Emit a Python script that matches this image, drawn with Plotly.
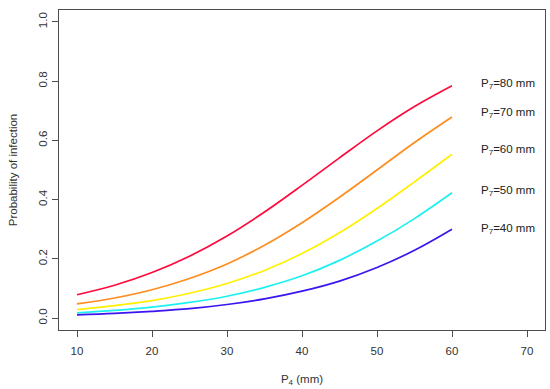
import plotly.graph_objects as go

# P4 (mm) values
p4 = [10, 15, 20, 25, 30, 35, 40, 45, 50, 55, 60]

# Probability of infection for each P7 value
prob_p7_80 = [0.079, 0.111, 0.154, 0.209, 0.277, 0.358, 0.448, 0.541, 0.632, 0.714, 0.784]
prob_p7_70 = [0.048, 0.068, 0.096, 0.134, 0.183, 0.246, 0.322, 0.408, 0.500, 0.593, 0.679]
prob_p7_60 = [0.029, 0.042, 0.059, 0.084, 0.117, 0.161, 0.218, 0.288, 0.370, 0.460, 0.553]
prob_p7_50 = [0.018, 0.026, 0.037, 0.053, 0.074, 0.104, 0.143, 0.195, 0.260, 0.336, 0.423]
prob_p7_40 = [0.011, 0.016, 0.023, 0.032, 0.046, 0.065, 0.091, 0.125, 0.171, 0.229, 0.300]

series_names = ["P7=80 mm", "P7=70 mm", "P7=60 mm", "P7=50 mm", "P7=40 mm"]
series_labels = ["P<sub>7</sub>=80 mm", "P<sub>7</sub>=70 mm", "P<sub>7</sub>=60 mm",
                 "P<sub>7</sub>=50 mm", "P<sub>7</sub>=40 mm"]
series_values = [prob_p7_80, prob_p7_70, prob_p7_60, prob_p7_50, prob_p7_40]
label_y = [0.789, 0.691, 0.567, 0.430, 0.300]
label_x = 63.6

x_ticks = [10, 20, 30, 40, 50, 60, 70]
y_ticks = [0.0, 0.2, 0.4, 0.6, 0.8, 1.0]
y_tick_text = ["0.0", "0.2", "0.4", "0.6", "0.8", "1.0"]

colors = ["#FF0A3C", "#FF8C1E", "#FFF000", "#1EF0F0", "#3C14F0"]

fig = go.Figure()
for name, vals, col in zip(series_names, series_values, colors):
    fig.add_trace(go.Scatter(x=p4, y=vals, mode="lines", name=name,
                             line=dict(color=col, width=1.7, shape="spline"),
                             showlegend=False))

for lab, yy in zip(series_labels, label_y):
    fig.add_annotation(x=label_x, y=yy, text=lab, showarrow=False,
                       xanchor="left", yanchor="middle",
                       font=dict(size=11.5, color="#222222", family="Liberation Sans, Arial"))

axis_color = "#4d4d4d"
fig.update_layout(
    width=550, height=389,
    margin=dict(l=58.7, r=5, t=10, b=59),
    paper_bgcolor="white", plot_bgcolor="white",
    font=dict(family="Liberation Sans, Arial", size=11.5, color="#333333"),
    xaxis=dict(range=[7.6, 72.4], tickvals=x_ticks, ticktext=[str(v) for v in x_ticks],
               showgrid=False, zeroline=False, showline=True, linecolor=axis_color,
               linewidth=1.3, mirror=True, ticks="outside", ticklen=6,
               tickcolor=axis_color, tickwidth=1.3, automargin=False,
               ticklabelstandoff=4,
               title=dict(text="P<sub>4</sub> (mm)", standoff=18, font=dict(size=11.5)),
               tickfont=dict(size=11.5, color="#333333")),
    yaxis=dict(range=[-0.04, 1.04], tickvals=y_ticks, ticktext=y_tick_text,
               showgrid=False, zeroline=False, showline=True, linecolor=axis_color,
               linewidth=1.3, mirror=True, ticks="outside", ticklen=6,
               tickcolor=axis_color, tickwidth=1.3, tickangle=-90, automargin=False,
               title=dict(text="Probability of infection", standoff=17, font=dict(size=11.5)),
               tickfont=dict(size=11.5, color="#333333")),
)

fig.write_html("out.html", config={"displayModeBar": False},
               post_script="document.body.style.margin='0px';document.body.style.overflow='hidden';")
